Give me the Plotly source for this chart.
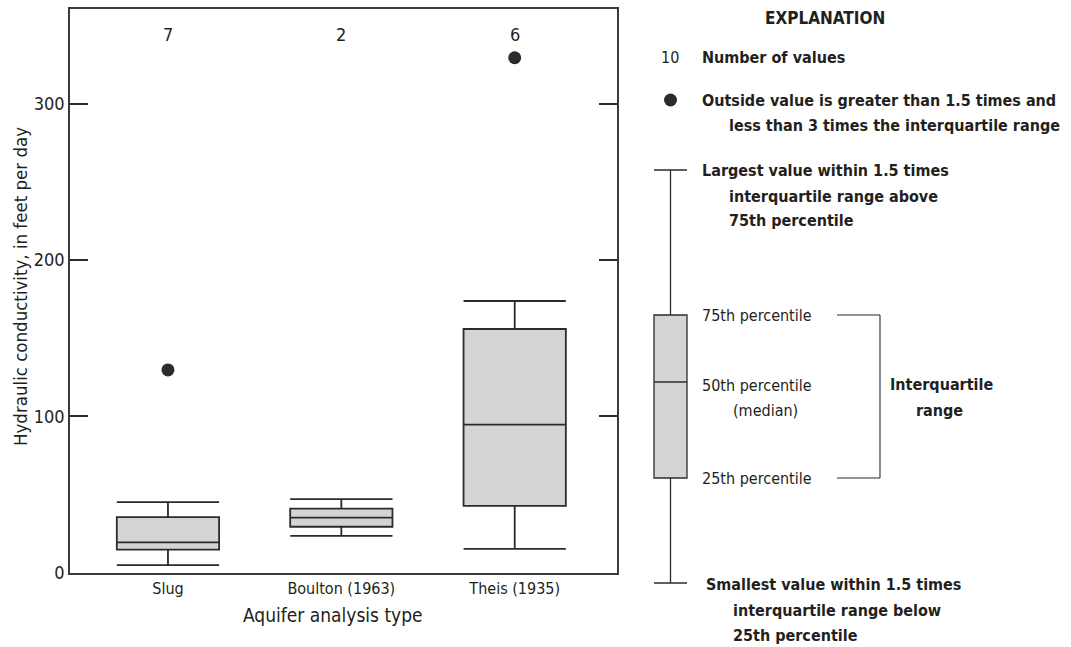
import plotly.graph_objects as go

# Box-plot summary statistics, hydraulic conductivity (feet per day)
categories = ["Slug", "Boulton (1963)", "Theis (1935)"]
lower_whisker = [4.9, 23.5, 15.2]
q1 = [14.7, 29.4, 42.7]
median = [19.4, 35.2, 94.7]
q3 = [35.6, 41.0, 155.9]
upper_whisker = [45.2, 47.1, 173.8]
counts = [7, 2, 6]
outlier_cats = ["Slug", "Theis (1935)"]
outlier_vals = [129.7, 329.4]

# Figure geometry (pixels)
W, H = 1071, 647
PLOT_L, PLOT_R, PLOT_T, PLOT_B = 70, 617, 9, 572.7

INK = "#231f20"
LINE = "#2b2b2b"
FILL = "#d3d4d6"
FONT = "Liberation Sans Narrow, DejaVu Sans Condensed, Arial Narrow, sans-serif"


def px(x):
    return x / W


def py(y):
    return 1 - y / H


fig = go.Figure()

fig.add_trace(go.Box(
    x=categories,
    q1=q1, median=median, q3=q3,
    lowerfence=lower_whisker, upperfence=upper_whisker,
    boxpoints=False,
    width=0.59,
    whiskerwidth=1,
    fillcolor=FILL,
    line=dict(color=LINE, width=1.8),
    showlegend=False,
    hoverinfo="skip",
))

fig.add_trace(go.Scatter(
    x=outlier_cats, y=outlier_vals, mode="markers",
    marker=dict(color=LINE, size=13),
    showlegend=False, hoverinfo="skip",
))

# Number of values above each box
for cat, n in zip(categories, counts):
    fig.add_annotation(x=cat, y=344, xref="x", yref="y", text=str(n),
                       xanchor="center", yanchor="middle",
                       showarrow=False, font=dict(size=18, color=INK, family=FONT))

fig.update_layout(
    width=W, height=H,
    margin=dict(l=0, r=0, t=0, b=0),
    paper_bgcolor="white", plot_bgcolor="white",
    font=dict(family=FONT, color=INK),
    xaxis=dict(
        domain=[px(PLOT_L), px(PLOT_R)],
        type="category", categoryorder="array", categoryarray=categories,
        range=[-0.565, 2.59],
        showline=True, mirror=True, linecolor="#3a3a3a", linewidth=1.5,
        ticks="", showgrid=False, zeroline=False, automargin=False,
        tickfont=dict(size=16, color=INK),
    ),
    yaxis=dict(
        domain=[py(PLOT_B), py(PLOT_T)],
        range=[0, 360.6],
        tickvals=[0, 100, 200, 300],
        ticks="inside", ticklen=18, tickwidth=1.5, tickcolor="#2b2b2b",
        showline=True, mirror="ticks", linecolor="#3a3a3a", linewidth=1.5,
        showgrid=False, zeroline=False, automargin=False,
        tickfont=dict(size=18, color=INK),
    ),
)

# Axis titles
fig.add_annotation(x=px(20), y=py(287), xref="paper", yref="paper",
                   xanchor="center", yanchor="middle",
                   text="Hydraulic conductivity, in feet per day", textangle=-90,
                   showarrow=False, font=dict(size=18.5, color=INK, family=FONT))
fig.add_annotation(x=px(333), y=py(615), xref="paper", yref="paper",
                   xanchor="center", yanchor="middle",
                   text="Aquifer analysis type", showarrow=False,
                   font=dict(size=19, color=INK, family=FONT))


def label(x, y, text, bold=False, anchor="left", size=16):
    fig.add_annotation(x=px(x), y=py(y), xref="paper", yref="paper",
                       text=f"<b>{text}</b>" if bold else text,
                       xanchor=anchor, yanchor="middle", showarrow=False,
                       font=dict(size=size, color=INK, family=FONT))


def seg(x0, y0, x1, y1, width=1.3):
    fig.add_shape(type="line", xref="paper", yref="paper",
                  x0=px(x0), y0=py(y0), x1=px(x1), y1=py(y1),
                  line=dict(color=LINE, width=width))


# Explanation panel
label(825, 18, "EXPLANATION", bold=True, anchor="center", size=17)
label(670, 57, "10", anchor="center", size=16)
label(700, 57, "Number of values", bold=True)
fig.add_shape(type="circle", xref="paper", yref="paper",
              x0=px(664), x1=px(677), y0=py(93.5), y1=py(106.5),
              fillcolor=LINE, line=dict(color=LINE, width=0))
label(700, 100, "Outside value is greater than 1.5 times and", bold=True)
label(727, 126, "less than 3 times the interquartile range", bold=True)

label(700, 170, "Largest value within 1.5 times", bold=True)
label(727, 196, "interquartile range above", bold=True)
label(727, 221, "75th percentile", bold=True)

# Example box
seg(654, 170, 687, 170)
seg(670.5, 170, 670.5, 315)
fig.add_shape(type="rect", xref="paper", yref="paper",
              x0=px(654), x1=px(687), y0=py(478), y1=py(315),
              fillcolor=FILL, line=dict(color=LINE, width=1.3))
seg(654, 382, 687, 382)
seg(670.5, 478, 670.5, 583)
seg(654, 583, 687, 583)

label(700, 315, "75th percentile")
label(700, 385, "50th percentile")
label(765, 410, "(median)", anchor="center")
label(700, 478, "25th percentile")
seg(837, 315, 880, 315, 1.1)
seg(880, 315, 880, 478, 1.1)
seg(837, 478, 880, 478, 1.1)
label(941, 384, "Interquartile", bold=True, anchor="center")
label(939, 410, "range", bold=True, anchor="center")

label(704, 584, "Smallest value within 1.5 times", bold=True)
label(731, 610, "interquartile range below", bold=True)
label(731, 635, "25th percentile", bold=True)

fig.write_html("out.html")
